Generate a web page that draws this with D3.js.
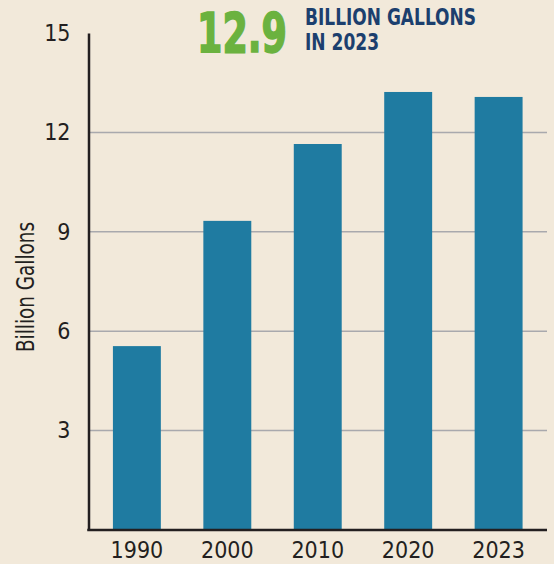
<!DOCTYPE html>
<html>
<head>
<meta charset="utf-8">
<script src="https://cdn.jsdelivr.net/npm/d3@7"></script>
<style>
  body { margin: 0; background: #f2e9da; }
  text { font-family: "Liberation Sans Narrow", "DejaVu Sans Condensed", sans-serif; }
</style>
</head>
<body>
<div id="content"></div>
<script>
const years = ["1990", "2000", "2010", "2020", "2023"]
const gallons = [5.55, 9.33, 11.65, 13.22, 13.07]
const yTicks = [3, 6, 9, 12, 15]
const headlineValue = "12.9"
const headlineLines = ["BILLION GALLONS", "IN 2023"]

const data = years.map((y, i) => ({year: y, value: gallons[i]}))

const outerWidth = 554
const outerHeight = 564
const margin = {top: 33, right: 7, bottom: 34, left: 88.5}
const fontStack = `"Liberation Sans Narrow", "DejaVu Sans Condensed", sans-serif`

const svg = d3.select("#content").append("svg")
    .attr("width", outerWidth)
    .attr("height", outerHeight)

svg.append("rect")
    .attr("width", outerWidth)
    .attr("height", outerHeight)
    .attr("fill", "#f2e9da")

// scales
const xScale = d3.scaleBand()
    .domain(years)
    .range([margin.left, outerWidth - margin.right])
    .paddingInner(0.47)
    .paddingOuter(0.27)

const yScale = d3.scaleLinear()
    .domain([0, 15])
    .range([outerHeight - margin.bottom, margin.top])

// gridlines
svg.append("g")
    .selectAll("line")
    .data(yTicks.filter(d => d < 15))
    .join("line")
    .attr("x1", margin.left)
    .attr("x2", outerWidth - margin.right)
    .attr("y1", d => yScale(d))
    .attr("y2", d => yScale(d))
    .attr("stroke", "#a9a9ad")
    .attr("stroke-width", 1.5)

// bars
svg.append("g")
    .selectAll("rect")
    .data(data)
    .join("rect")
    .attr("x", d => xScale(d.year))
    .attr("width", xScale.bandwidth())
    .attr("y", d => yScale(d.value))
    .attr("height", d => yScale(0) - yScale(d.value))
    .attr("fill", "#1f7ba1")

// y axis
const yAxis = d3.axisLeft(yScale).tickValues(yTicks).tickSize(0).tickPadding(18)
const gy = svg.append("g")
    .attr("transform", `translate(${margin.left}, 0)`)
    .call(yAxis)
gy.select(".domain").attr("stroke", "#231f20").attr("stroke-width", 2.5)
gy.selectAll("text")
    .attr("fill", "#231f20")
    .style("font-size", "23px")
    .style("font-family", fontStack)

// x axis
const xAxis = d3.axisBottom(xScale).tickSize(0).tickPadding(12)
const gx = svg.append("g")
    .attr("transform", `translate(0, ${yScale(0)})`)
    .call(xAxis)
gx.select(".domain")
    .attr("d", `M${margin.left - 1.25},0H${outerWidth - margin.right}`)
    .attr("stroke", "#231f20")
    .attr("stroke-width", 2.5)
gx.selectAll("text")
    .attr("fill", "#231f20")
    .style("font-size", "23px")
    .style("font-family", fontStack)

// y axis title
svg.append("text")
    .attr("transform", `translate(34, 287) rotate(-90)`)
    .attr("text-anchor", "middle")
    .attr("fill", "#231f20")
    .attr("textLength", 130)
    .attr("lengthAdjust", "spacingAndGlyphs")
    .style("font-size", "24px")
    .text("Billion Gallons")

// headline
svg.append("text")
    .attr("x", 197)
    .attr("y", 52)
    .attr("fill", "#6bb23f")
    .attr("stroke", "#6bb23f")
    .attr("stroke-width", 1.6)
    .attr("textLength", 90)
    .attr("lengthAdjust", "spacingAndGlyphs")
    .style("font-size", "56px")
    .style("font-weight", "700")
    .text(headlineValue)

svg.append("g")
    .selectAll("text")
    .data(headlineLines)
    .join("text")
    .attr("x", 305)
    .attr("y", (d, i) => 25 + i * 24.5)
    .attr("fill", "#1c3f6e")
    .attr("textLength", (d, i) => i === 0 ? 171 : 74)
    .attr("lengthAdjust", "spacingAndGlyphs")
    .style("font-size", "23px")
    .style("font-weight", "700")
    .text(d => d)
</script>
</body>
</html>
